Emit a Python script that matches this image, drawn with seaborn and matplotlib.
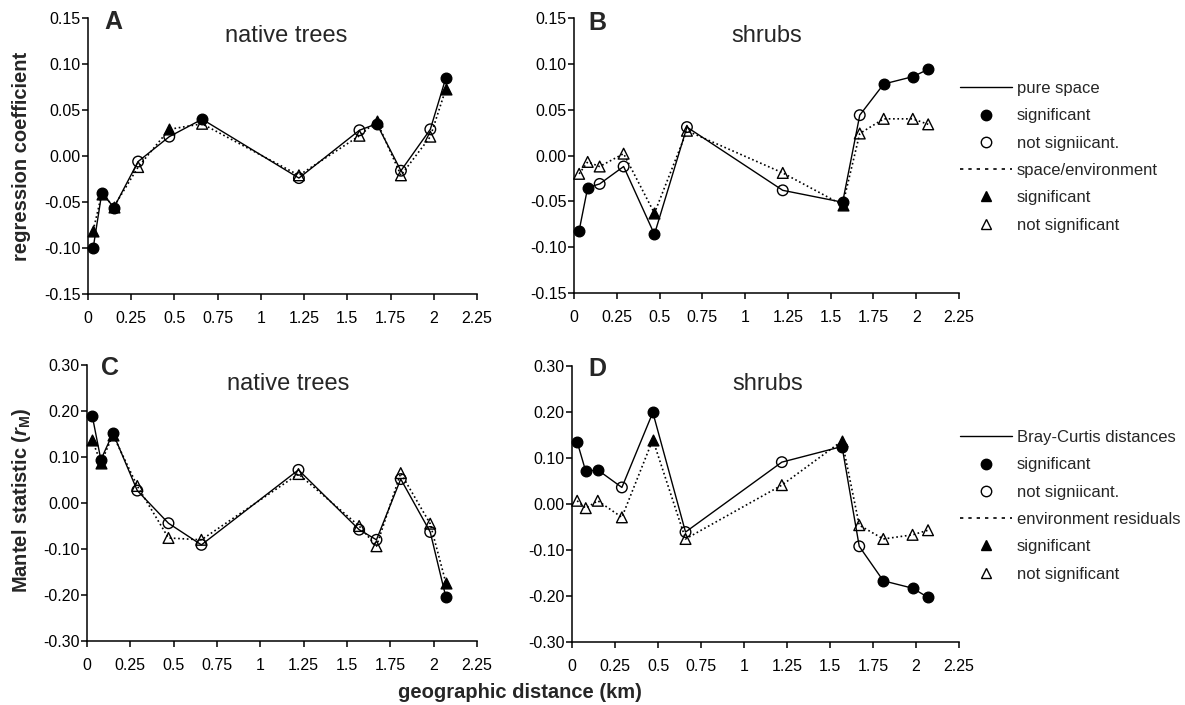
"""
Spatial structure of native trees and shrubs - regression coefficients (A, B)
and Mantel correlogram (C, D) against geographic distance
"""
import matplotlib
matplotlib.use("Agg")
import matplotlib.pyplot as plt
import pandas as pd
import seaborn as sns
from matplotlib.lines import Line2D

# distance classes (km), shared by all panels
dist_km = [0.03, 0.08, 0.15, 0.29, 0.47, 0.66, 1.22, 1.57, 1.67, 1.81, 1.98, 2.07]

# A - native trees, regression coefficients
a_space = [-0.100, -0.040, -0.056, -0.006, 0.021, 0.040, -0.024, 0.028, 0.035, -0.016, 0.029, 0.085]
a_space_sig = [1, 1, 1, 0, 0, 1, 0, 0, 1, 0, 0, 1]
a_env = [-0.081, -0.041, -0.055, -0.012, 0.029, 0.035, -0.021, 0.022, 0.038, -0.021, 0.021, 0.073]
a_env_sig = [1, 1, 1, 0, 1, 0, 0, 0, 1, 0, 0, 1]

# B - shrubs, regression coefficients
b_space = [-0.082, -0.035, -0.031, -0.012, -0.086, 0.031, -0.038, -0.051, 0.044, 0.078, 0.086, 0.094]
b_space_sig = [1, 1, 0, 0, 1, 0, 0, 1, 0, 1, 1, 1]
b_env = [-0.020, -0.007, -0.012, 0.002, -0.063, 0.027, -0.019, -0.054, 0.024, 0.040, 0.040, 0.034]
b_env_sig = [0, 0, 0, 0, 1, 0, 0, 1, 0, 0, 0, 0]

# C - native trees, Mantel statistic
c_bray = [0.190, 0.094, 0.152, 0.027, -0.044, -0.091, 0.072, -0.058, -0.080, 0.052, -0.063, -0.204]
c_bray_sig = [1, 1, 1, 0, 0, 0, 0, 0, 0, 0, 0, 1]
c_env = [0.137, 0.087, 0.148, 0.037, -0.076, -0.080, 0.063, -0.050, -0.094, 0.065, -0.045, -0.173]
c_env_sig = [1, 1, 1, 0, 0, 0, 0, 0, 0, 0, 0, 1]

# D - shrubs, Mantel statistic
d_bray = [0.135, 0.071, 0.074, 0.036, 0.199, -0.061, 0.091, 0.125, -0.092, -0.167, -0.183, -0.203]
d_bray_sig = [1, 1, 1, 0, 1, 0, 0, 1, 0, 1, 1, 1]
d_env = [0.007, -0.009, 0.007, -0.029, 0.140, -0.076, 0.041, 0.137, -0.046, -0.076, -0.067, -0.057]
d_env_sig = [0, 0, 0, 0, 1, 0, 0, 1, 0, 0, 0, 0]

x_ticks = [0, 0.25, 0.5, 0.75, 1, 1.25, 1.5, 1.75, 2, 2.25]
x_tick_labels = ["0", "0.25", "0.5", "0.75", "1", "1.25", "1.5", "1.75", "2", "2.25"]
reg_ticks = [-0.15, -0.10, -0.05, 0.00, 0.05, 0.10, 0.15]
mantel_ticks = [-0.30, -0.20, -0.10, 0.00, 0.10, 0.20, 0.30]

sns.set_style("ticks")
plt.rcParams["font.family"] = ["Liberation Sans", "DejaVu Sans"]
plt.rcParams["mathtext.fontset"] = "custom"
plt.rcParams["mathtext.rm"] = "Liberation Sans:bold"
plt.rcParams["mathtext.it"] = "Liberation Sans:italic:bold"

W, H = 1185, 705
fig = plt.figure(figsize=(W / 100, H / 100), dpi=100)
DOTS = (0, (1, 1.6))


def px_axes(left, top, right, bottom):
    return fig.add_axes([left / W, 1 - bottom / H, (right - left) / W, (bottom - top) / H])


def draw_panel(ax, solid_vals, solid_sig, dot_vals, dot_sig, yticks):
    df = pd.DataFrame({"dist": dist_km, "solid": solid_vals, "solid_sig": solid_sig,
                       "dot": dot_vals, "dot_sig": dot_sig})
    sns.lineplot(data=df, x="dist", y="dot", ax=ax, sort=False, color="black",
                 lw=1.2, linestyle=DOTS, zorder=2)
    sns.lineplot(data=df, x="dist", y="solid", ax=ax, sort=False, color="black",
                 lw=1.0, zorder=2)
    for sig, fc in [(0, "none"), (1, "black")]:
        sub = df[df["dot_sig"] == sig]
        sns.scatterplot(data=sub, x="dist", y="dot", ax=ax, marker="^", s=60,
                        facecolor=fc, edgecolor="black", linewidth=1.0,
                        zorder=3, clip_on=False)
    for sig, fc in [(0, "none"), (1, "black")]:
        sub = df[df["solid_sig"] == sig]
        sns.scatterplot(data=sub, x="dist", y="solid", ax=ax, marker="o", s=58,
                        facecolor=fc, edgecolor="black", linewidth=1.0,
                        zorder=4, clip_on=False)

    ax.set_xlim(0, 2.25)
    ax.set_xticks(x_ticks, labels=x_tick_labels)
    ax.set_ylim(yticks[0], yticks[-1])
    ax.set_yticks(yticks, labels=[f"{v:.2f}" for v in yticks])
    ax.set_xlabel("")
    ax.set_ylabel("")
    sns.despine(ax=ax)
    for side in ["left", "bottom"]:
        ax.spines[side].set_linewidth(1.1)
        ax.spines[side].set_color("black")
    ax.tick_params(axis="both", direction="out", length=4, width=1.1,
                   labelsize=11.5, colors="black")
    ax.tick_params(axis="y", pad=1.5)
    ax.tick_params(axis="x", pad=8)


panels = [
    (px_axes(88, 18, 477, 294), a_space, a_space_sig, a_env, a_env_sig, reg_ticks,
     "A", (0.064, 0.986), "native trees", (0.51, 0.935)),
    (px_axes(574, 18, 959, 293), b_space, b_space_sig, b_env, b_env_sig, reg_ticks,
     "B", (0.062, 0.98), "shrubs", (0.50, 0.935)),
    (px_axes(87, 365, 477, 641), c_bray, c_bray_sig, c_env, c_env_sig, mantel_ticks,
     "C", (0.059, 0.99), "native trees", (0.515, 0.931)),
    (px_axes(572, 366, 959, 642), d_bray, d_bray_sig, d_env, d_env_sig, mantel_ticks,
     "D", (0.065, 0.99), "shrubs", (0.506, 0.935)),
]

for ax, sv, ss, dv, ds, yt, letter, lpos, title, tpos in panels:
    draw_panel(ax, sv, ss, dv, ds, yt)
    ax.text(*lpos, letter, transform=ax.transAxes, ha="center", va="center",
            fontsize=18, fontweight="bold")
    ax.text(*tpos, title, transform=ax.transAxes, ha="center", va="center",
            fontsize=17)


def legend_handles(solid_label, dot_label):
    handles = [
        Line2D([], [], color="black", lw=1.0),
        Line2D([], [], color="none", marker="o", markersize=7.5, markerfacecolor="black",
               markeredgecolor="black"),
        Line2D([], [], color="none", marker="o", markersize=7.5, markerfacecolor="none",
               markeredgecolor="black"),
        Line2D([], [], color="black", lw=1.2, linestyle=(0, (2, 3))),
        Line2D([], [], color="none", marker="^", markersize=7, markerfacecolor="black",
               markeredgecolor="black"),
        Line2D([], [], color="none", marker="^", markersize=7, markerfacecolor="none",
               markeredgecolor="black"),
    ]
    labels = [solid_label, "significant", "not signiicant.", dot_label,
              "significant", "not significant"]
    return handles, labels


for top_px, solid_label, dot_label in [(81, "pure space", "space/environment"),
                                       (430, "Bray-Curtis distances", "environment residuals")]:
    h, l = legend_handles(solid_label, dot_label)
    fig.legend(h, l, loc="upper left", bbox_to_anchor=(960 / W, 1 - top_px / H),
               frameon=False, fontsize=12, handlelength=3.1, handletextpad=0.3,
               labelspacing=0.74, borderpad=0, borderaxespad=0, numpoints=1)

fig.text(22 / W, 1 - 156 / H, "regression coefficient", rotation=90,
         ha="center", va="center", fontsize=14.5, fontweight="bold")
fig.text(22 / W, 1 - 500 / H, r"Mantel statistic ($\it{r}_{\rm M}$)", rotation=90,
         ha="center", va="center", fontsize=14.5, fontweight="bold")
fig.text(520 / W, 1 - 692 / H, "geographic distance (km)",
         ha="center", va="center", fontsize=14.5, fontweight="bold")

fig.savefig("out.png", dpi=100)
